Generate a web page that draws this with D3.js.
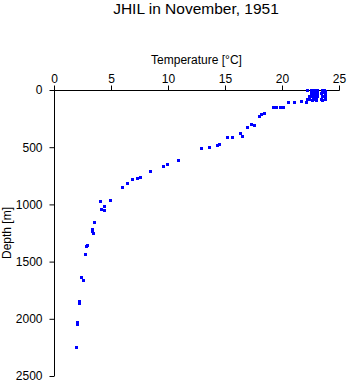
<!DOCTYPE html>
<html><head><meta charset="utf-8">
<script src="https://cdn.jsdelivr.net/npm/d3@7"></script>
<style>
html,body{margin:0;padding:0;background:#fff;}
svg{display:block;font-family:"Liberation Sans",Arial,Helvetica,sans-serif;}
</style></head>
<body>
<script>
const title = "JHIL in November, 1951";
const xLabel = "Temperature [°C]";
const yLabel = "Depth [m]";
const xTicks = [0, 5, 10, 15, 20, 25];
const yTicks = [0, 500, 1000, 1500, 2000, 2500];
const temperature = [
  22.2,22.5,22.8,23.1,23.5,23.7,
  22.6,22.9,23.0,23.6,23.8,
  22.5,22.7,23.0,23.5,23.7,
  22.5,22.8,23.1,23.4,23.8,
  22.4,22.6,22.9,23.1,23.5,23.8,
  22.4,22.7,23.0,23.4,23.8,
  22.6,23.0,23.5,
  22.2,22.1,21.7,21.05,20.5,
  20.1,19.9,19.8,19.5,19.2,
  18.4,18.2,18.0,
  17.5,17.3,16.9,
  16.3,16.5,15.6,15.2,
  14.5,14.3,13.6,12.9,
  10.85,9.9,9.6,8.45,7.55,7.3,6.8,6.4,6.0,
  4.9,4.05,4.4,4.1,4.4,
  3.5,3.35,3.35,3.45,
  2.9,2.8,2.7,
  2.4,2.5,2.2,2.2,2.05,2.05,1.95
];
const depth = [
  0,0,0,0,0,0,
  10,10,10,10,10,
  20,20,20,20,20,
  30,30,30,30,30,
  50,50,50,50,50,50,
  75,75,75,75,75,
  90,90,90,
  81,108,99,108,108,
  148,145,150,150,150,
  200,207,227,
  303,300,320,
  379,405,408,413,
  469,480,501,507,
  615,650,664,711,760,772,781,816,845,
  965,973,1017,1037,1052,
  1157,1215,1230,1253,
  1352,1360,1436,
  1637,1658,1842,1860,2030,2045,2250
];

const W = 348, H = 384;
const svg = d3.select("body").append("svg").attr("width", W).attr("height", H);
const x = d3.scaleLinear().domain([0, 25]).range([54, 339]);
const y = d3.scaleLinear().domain([0, 2500]).range([90, 376]);

svg.append("text").attr("x", 196).attr("y", 14).attr("text-anchor", "middle")
  .attr("font-size", 15.5).text(title);

const gx = svg.append("g").attr("transform", "translate(0,90.5)")
  .call(d3.axisTop(x).tickValues(xTicks).tickSize(5).tickPadding(3).tickFormat(d3.format("d")));
const gy = svg.append("g").attr("transform", "translate(54.5,0)")
  .call(d3.axisLeft(y).tickValues(yTicks).tickSize(5).tickPadding(7).tickFormat(d3.format("d")));
[gx, gy].forEach(g => {
  g.select(".domain").attr("stroke", "#000").attr("stroke-width", 1)
    .attr("d", g === gx ? "M54,0H339.5" : "M0,90V376");
  g.selectAll(".tick line").attr("stroke", "#000").attr("stroke-width", 1);
  g.selectAll("text").attr("fill", "#000").attr("font-size", 12)
    .attr("font-family", "Liberation Sans, Arial, sans-serif");
});

svg.append("text").attr("x", 196.5).attr("y", 64).attr("text-anchor", "middle")
  .attr("font-size", 12).text(xLabel);
svg.append("text").attr("transform", "translate(11,233) rotate(-90)")
  .attr("text-anchor", "middle").attr("font-size", 12).text(yLabel);

const pts = temperature.map((t, i) => ({t, d: depth[i]}));
svg.append("g").selectAll("rect").data(pts).join("rect")
  .attr("x", p => Math.round(x(p.t)) - 1)
  .attr("y", p => Math.round(y(p.d)) - 1)
  .attr("width", 3).attr("height", 3)
  .attr("fill", "#0000ff").attr("shape-rendering", "crispEdges");
</script>
</body></html>
